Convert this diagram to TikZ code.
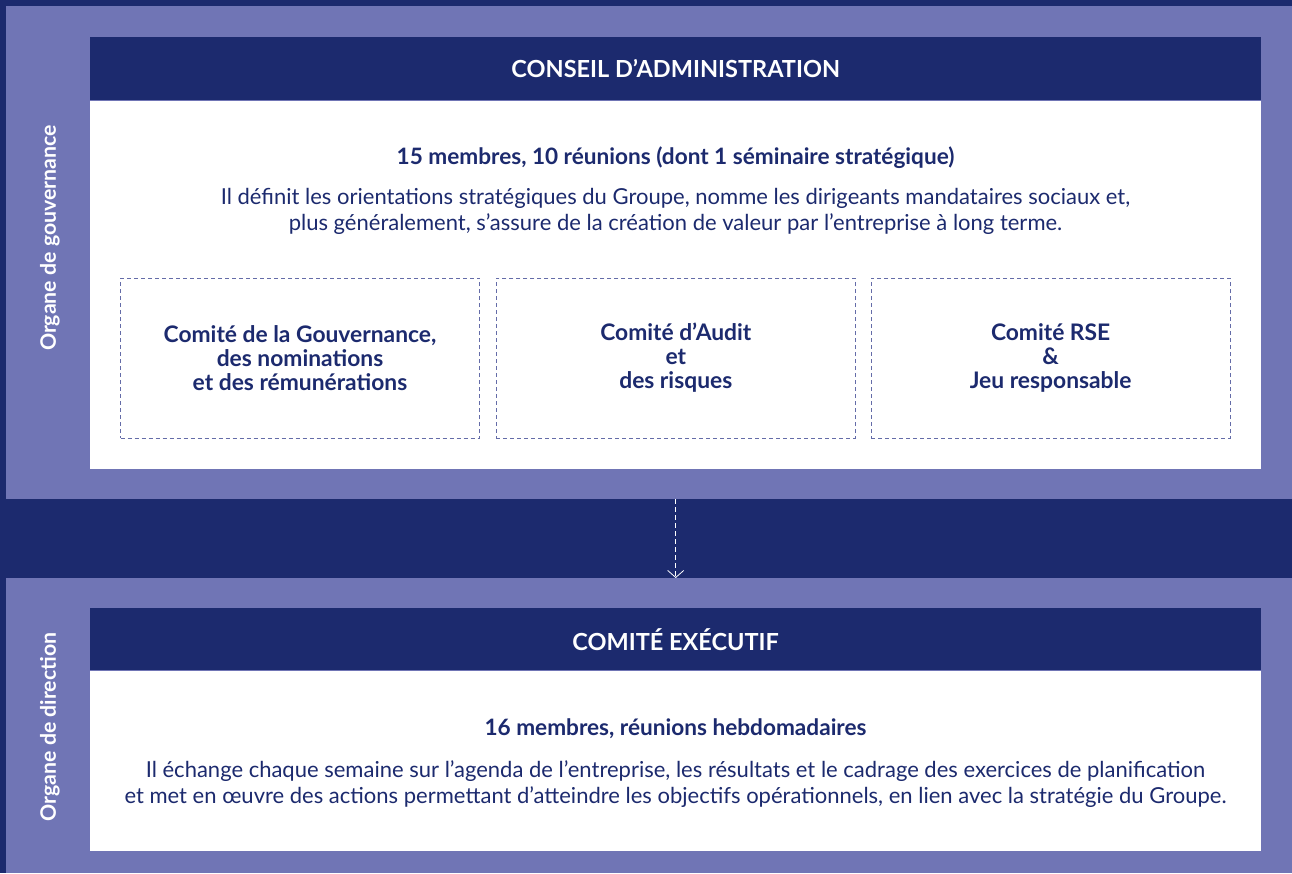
\documentclass[tikz,border=0pt]{standalone}
\usepackage{fontspec}
\setmainfont{Lato}
\usetikzlibrary{arrows.meta,positioning}
\definecolor{marine}{RGB}{28,42,110}
\definecolor{lavande}{RGB}{112,117,181}
\definecolor{pointille}{RGB}{100,108,168}
\begin{document}
\begin{tikzpicture}[x=1pt,y=-1pt,
		bande/.style={fill=lavande,inner sep=0pt,minimum width=1286pt,anchor=north west},
		entete/.style={fill=marine,text=white,inner sep=0pt,minimum width=1171pt,anchor=north west,font=\bfseries\fontsize{23.5}{27}\selectfont},
		panneau/.style={fill=white,inner sep=0pt,minimum width=1171pt,anchor=north},
		comite/.style={draw=pointille,dash pattern=on 4pt off 3pt,line width=0.8pt,minimum width=359pt,minimum height=160pt,align=center,text=marine,font=\bfseries\fontsize{22.8}{24}\selectfont},
		chiffres/.style={text=marine,font=\bfseries\fontsize{22.6}{26}\selectfont},
		mission/.style={text=marine,align=center,font=\fontsize{22}{26}\selectfont},
		organe/.style={text=white,rotate=90,font=\bfseries\fontsize{21.3}{24}\selectfont},
		fleche/.style={draw=white,line width=0.8pt,dash pattern=on 5pt off 3pt,-{Straight Barb[length=7pt,width=16pt]}}]
			\useasboundingbox (0,0) rectangle (1292,873);
			\fill[marine] (0,0) rectangle (1292,873);
			\node[bande,minimum height=493pt] (gouvband) at (6,6) {};
			\node[bande,minimum height=295pt] (dirband) at (6,578) {};
			% organe de gouvernance
			\node[entete,minimum height=63pt] (ca) at (90,37) {CONSEIL D’ADMINISTRATION};
			\node[panneau,minimum height=368pt] (caboite) at (ca.south) {};
			\node[chiffres] (cachiffres) at (675.5,158) {15 membres, 10 réunions (dont 1 séminaire stratégique)};
			\node[mission] (camission) at (675.5,211) {Il définit les orientations stratégiques du Groupe, nomme les dirigeants mandataires sociaux et,\\plus généralement, s’assure de la création de valeur par l’entreprise à long terme.};
			\node[comite] (gouv) at (300,358) {Comité de la Gouvernance,\\des nominations\\et des rémunérations};
			\node[comite,right=16pt of gouv] (audit) {Comité d’Audit\\et\\des risques};
			\node[comite,right=15pt of audit] (rse) {Comité RSE\\\&\\Jeu responsable};
			\node[organe] (orggouv) at (50,238) {Organe de gouvernance};
			% organe de direction
			\node[entete,minimum height=62pt] (comex) at (90,608) {COMITÉ EXÉCUTIF};
			\node[panneau,minimum height=180pt] (comexboite) at (comex.south) {};
			\node[chiffres] (comexchiffres) at (675.5,729) {16 membres, réunions hebdomadaires};
			\node[mission] (comexmission) at (675.5,784) {Il échange chaque semaine sur l’agenda de l’entreprise, les résultats et le cadrage des exercices de planification\\et met en œuvre des actions permettant d’atteindre les objectifs opérationnels, en lien avec la stratégie du Groupe.};
			\node[organe] (orgdir) at (50,727) {Organe de direction};
			\draw[fleche] (gouvband.south -| ca.south) -- (dirband.north -| comex.north);
		\end{tikzpicture}
\end{document}
